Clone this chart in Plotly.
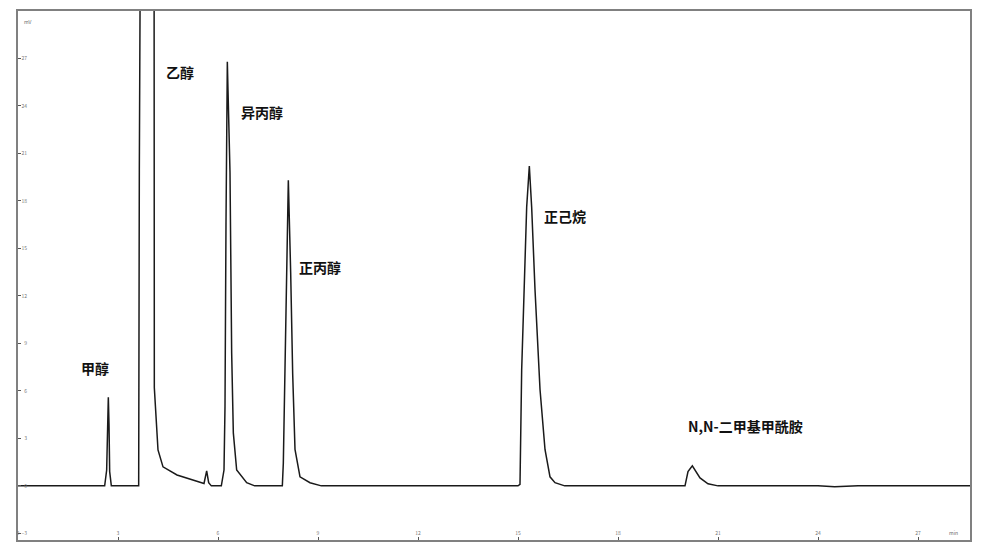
import plotly.graph_objects as go

# Chromatogram trace (time in min, signal in mV)
time_min = [0.00, 2.60, 2.66, 2.69, 2.71, 2.73, 2.75, 2.80,
            3.62, 3.64, 3.66, 3.85, 4.07, 4.085, 4.09, 4.20, 4.35, 4.77, 5.46, 5.58, 5.66, 5.72, 5.80,
            6.10, 6.18, 6.21, 6.24, 6.28, 6.30, 6.36, 6.41, 6.46, 6.56, 6.86, 7.10,
            7.93, 7.96, 8.04, 8.11, 8.18, 8.24, 8.31, 8.46, 8.76, 9.10,
            15.00, 15.06, 15.11, 15.18, 15.26, 15.34, 15.41, 15.51, 15.66, 15.81, 15.96, 16.11, 16.40,
            20.01, 20.10, 20.23, 20.46, 20.70, 21.00,
            24.00, 24.50, 25.20, 28.56]
signal_mv = [0.0, 0.0, 1.0, 4.0, 5.6, 3.9, 0.9, 0.0,
             0.0, 20.0, 80.0, 120.0, 80.0, 30.0, 6.2, 2.27, 1.2, 0.69, 0.25, 0.15, 0.95, 0.2, 0.0,
             0.0, 1.0, 5.0, 16.6, 26.8, 25.0, 19.8, 8.4, 3.35, 1.0, 0.2, 0.0,
             0.0, 1.45, 12.6, 19.3, 13.5, 7.1, 2.3, 0.57, 0.2, 0.0,
             0.0, 0.1, 7.3, 12.2, 17.6, 20.2, 17.6, 12.4, 6.1, 2.3, 0.57, 0.2, 0.0,
             0.0, 0.9, 1.26, 0.5, 0.13, 0.0,
             0.0, -0.06, 0.0, 0.0]

# Peak labels
peak_names = ["甲醇", "乙醇", "异丙醇", "正丙醇", "正己烷", "N,N-二甲基甲酰胺"]
label_t = [2.31, 4.86, 7.32, 9.06, 16.41, 21.81]
label_v = [7.45, 26.15, 23.6, 13.83, 17.05, 3.79]

x_ticks = [0, 3, 6, 9, 12, 15, 18, 21, 24, 27]
y_ticks = [-3, 0, 3, 6, 9, 12, 15, 18, 21, 24, 27]

fig = go.Figure()
fig.add_trace(go.Scatter(x=time_min, y=signal_mv, mode="lines",
                         line=dict(color="#1a1a1a", width=1.5), showlegend=False,
                         cliponaxis=True))

for name, t, v in zip(peak_names, label_t, label_v):
    fig.add_annotation(x=t, y=v, text=f"<b>{name}</b>", showarrow=False,
                       font=dict(family="Noto Sans CJK SC", size=14, color="#111"))

fig.add_annotation(xref="paper", yref="paper", x=0.004, y=0.99, text="mV", showarrow=False,
                   xanchor="left", yanchor="top", font=dict(size=5, color="#666"))
fig.add_annotation(xref="paper", yref="paper", x=0.99, y=0.004, text="min", showarrow=False,
                   xanchor="right", yanchor="bottom", font=dict(size=5, color="#666"))

fig.update_xaxes(range=[0, 28.56], tickvals=x_ticks, ticks="inside", ticklen=3,
                 tickcolor="#555", showgrid=False, zeroline=False,
                 showline=True, linecolor="#808080", linewidth=2, mirror=True,
                 ticklabelposition="outside", ticklabelstandoff=-13,
                 tickfont=dict(size=5, color="#777"))
fig.update_yaxes(range=[-3.42, 30.0], tickvals=y_ticks, ticks="inside", ticklen=3,
                 tickcolor="#555", showgrid=False, zeroline=False,
                 showline=True, linecolor="#808080", linewidth=2, mirror=True,
                 ticklabelposition="outside", ticklabelstandoff=-12,
                 tickfont=dict(size=5, color="#777"))

fig.update_layout(width=970, height=535, paper_bgcolor="white", plot_bgcolor="white",
                  margin=dict(l=10, r=8, t=3, b=3, autoexpand=False),
                  font=dict(family="Noto Sans CJK SC"))

fig.write_html("out.html")
